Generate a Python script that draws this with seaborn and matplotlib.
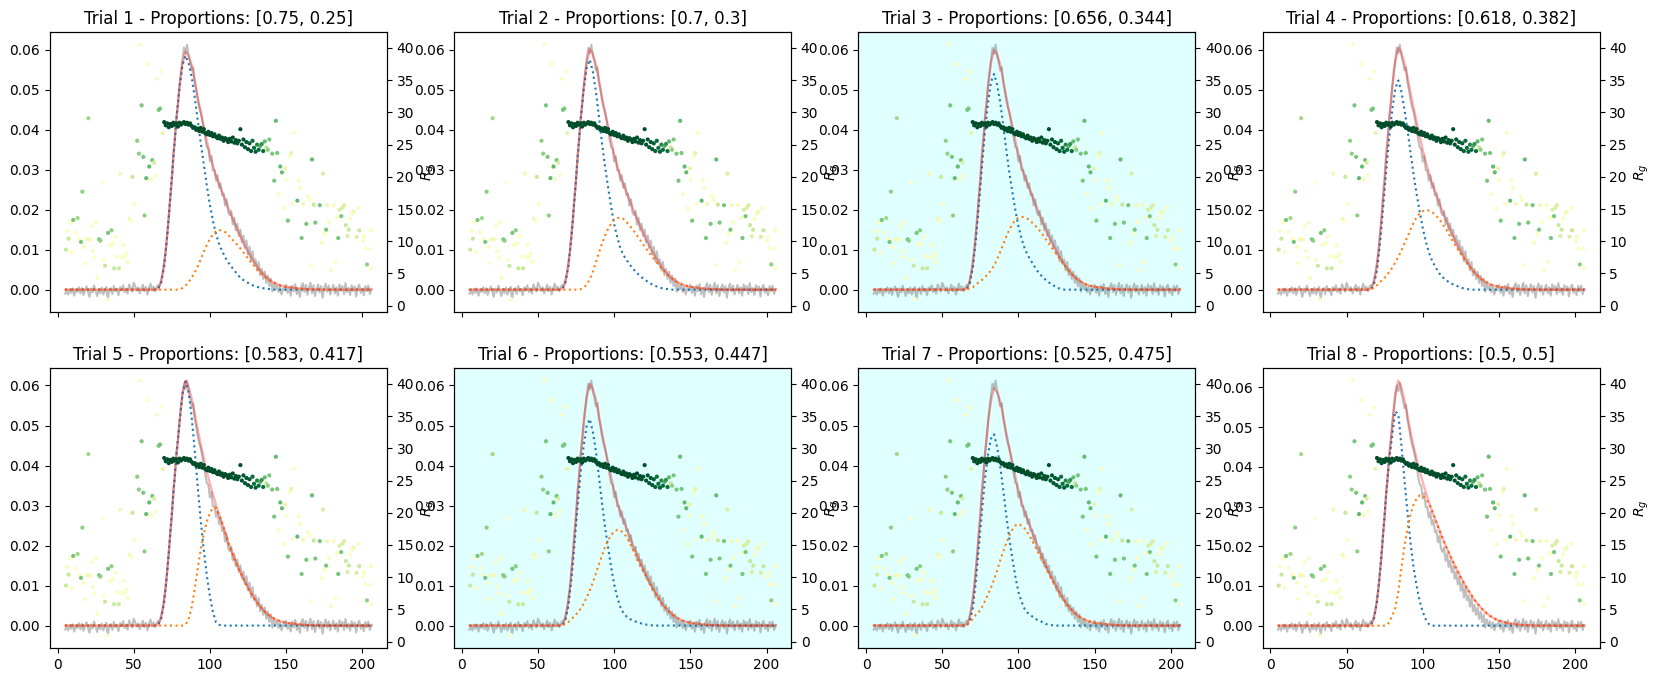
import numpy as np
import pandas as pd
import matplotlib
matplotlib.use('Agg')
import matplotlib.pyplot as plt
import seaborn as sns

# Measured elution trace (one value per frame)
frames = list(range(5, 207))
measured = [
    -0.0010, -0.0004, -0.0012, 0.0002, -0.0008, 0.0003, -0.0015, 0.0001, -0.0006, 0.0006,
    -0.0009, 0.0004, -0.0013, -0.0002, 0.0008, -0.0005, -0.0018, 0.0003, -0.0007, 0.0010,
    -0.0003, -0.0016, 0.0002, -0.0009, 0.0005, -0.0012, -0.0003, 0.0007, -0.0024, -0.0001,
    0.0004, -0.0011, 0.0009, -0.0004, 0.0002, -0.0014, 0.0006, -0.0002, 0.0011, -0.0006,
    0.0003, -0.0010, 0.0013, 0.0004, -0.0005, 0.0017, 0.0008, -0.0003, 0.0006, -0.0009,
    0.0002, 0.0012, -0.0004, 0.0007, -0.0012, 0.0004, 0.0015, -0.0002, 0.0008, -0.0004,
    0.0006, 0.0012, 0.0010, 0.0025, 0.0042, 0.0070, 0.0095, 0.0140, 0.0178, 0.0232,
    0.0270, 0.0335, 0.0372, 0.0428, 0.0462, 0.0508, 0.0545, 0.0575, 0.0605, 0.0590,
    0.0612, 0.0585, 0.0570, 0.0548, 0.0556, 0.0518, 0.0498, 0.0474, 0.0456, 0.0444,
    0.0424, 0.0400, 0.0376, 0.0356, 0.0352, 0.0320, 0.0334, 0.0298, 0.0299, 0.0272,
    0.0286, 0.0254, 0.0266, 0.0236, 0.0240, 0.0210, 0.0226, 0.0194, 0.0186, 0.0197,
    0.0163, 0.0180, 0.0148, 0.0165, 0.0134, 0.0150, 0.0118, 0.0135, 0.0104, 0.0123,
    0.0088, 0.0107, 0.0071, 0.0096, 0.0064, 0.0076, 0.0048, 0.0069, 0.0036, 0.0052,
    0.0027, 0.0045, 0.0017, 0.0035, 0.0009, 0.0028, -0.0005, 0.0016, 0.0001, 0.0011,
    -0.0006, 0.0008, -0.0012, 0.0004, -0.0002, 0.0012, -0.0008, 0.0006, -0.0015, 0.0010,
    -0.0004, 0.0014, -0.0011, 0.0003, -0.0018, 0.0008, 0.0016, -0.0006, 0.0012, -0.0013,
    0.0005, 0.0017, -0.0009, 0.0011, -0.0016, 0.0002, 0.0013, -0.0007, 0.0009, -0.0020,
    0.0004, 0.0015, -0.0005, 0.0010, -0.0012, 0.0001, 0.0012, -0.0009, 0.0006, -0.0015,
    0.0013, -0.0002, 0.0009, -0.0011, 0.0016, -0.0006, 0.0004, -0.0013, 0.0011, -0.0003,
    0.0008, -0.0017, 0.0005, 0.0012, -0.0008, 0.0003, -0.0014, 0.0009, -0.0004, 0.0010,
    -0.0011, 0.0002,
]

# Frames where the fitted curves are given
fit_x = [5, 58, 60, 62, 64, 66, 68, 70, 72, 74, 76, 78, 80,
         82, 84, 86, 88, 90, 92, 94, 96, 98, 100,
         102, 104, 106, 108, 110, 112, 114, 116, 118, 120,
         122, 124, 126, 128, 130, 132, 134, 136, 138, 140,
         142, 144, 146, 148, 150, 156, 164, 175, 206]

# Trial 1
t1_total = [0, 0, 0, 0, 0, 0.0002, 0.0018, 0.0060, 0.0135, 0.0230, 0.0330, 0.0425, 0.0505,
            0.0565, 0.0595, 0.0585, 0.0562, 0.0525, 0.0482, 0.0443, 0.0408, 0.0372, 0.0338,
            0.0310, 0.0285, 0.0264, 0.0245, 0.0225, 0.0205, 0.0186, 0.0168, 0.0150, 0.0133,
            0.0117, 0.0102, 0.0088, 0.0075, 0.0063, 0.0052, 0.0043, 0.0035, 0.0028, 0.0022,
            0.0018, 0.0014, 0.0011, 0.0009, 0.0007, 0.0004, 0.0001, 0, 0]
t1_first = [0, 0, 0, 0, 0, 0.0002, 0.0018, 0.0060, 0.0135, 0.0230, 0.0330, 0.0425, 0.0504,
            0.0561, 0.0585, 0.0566, 0.0532, 0.0482, 0.0424, 0.0367, 0.0313, 0.0260, 0.0211,
            0.0172, 0.0139, 0.0115, 0.0097, 0.0081, 0.0068, 0.0058, 0.0048, 0.0038, 0.0030,
            0.0024, 0.0019, 0.0015, 0.0011, 0.0008, 0.0006, 0.0004, 0.0003, 0.0002, 0.0001,
            0, 0, 0, 0, 0, 0, 0, 0, 0]
t1_second = [0, 0, 0, 0, 0, 0, 0, 0, 0, 0, 0, 0, 0.0001,
             0.0004, 0.0010, 0.0019, 0.0030, 0.0043, 0.0058, 0.0076, 0.0095, 0.0112, 0.0127,
             0.0138, 0.0146, 0.0149, 0.0148, 0.0144, 0.0137, 0.0128, 0.0120, 0.0112, 0.0103,
             0.0093, 0.0083, 0.0073, 0.0064, 0.0055, 0.0046, 0.0039, 0.0032, 0.0026, 0.0021,
             0.0018, 0.0014, 0.0011, 0.0009, 0.0007, 0.0004, 0.0001, 0, 0]

# Trial 2
t2_total = [0, 0, 0, 0, 0, 0.0002, 0.0018, 0.0060, 0.0135, 0.0230, 0.0330, 0.0425, 0.0505,
            0.0568, 0.0601, 0.0590, 0.0564, 0.0525, 0.0482, 0.0443, 0.0408, 0.0372, 0.0338,
            0.0310, 0.0285, 0.0264, 0.0245, 0.0225, 0.0205, 0.0186, 0.0168, 0.0150, 0.0133,
            0.0117, 0.0102, 0.0088, 0.0075, 0.0063, 0.0052, 0.0043, 0.0035, 0.0028, 0.0022,
            0.0018, 0.0014, 0.0011, 0.0009, 0.0007, 0.0004, 0.0001, 0, 0]
t2_first = [0, 0, 0, 0, 0, 0.0002, 0.0018, 0.0060, 0.0135, 0.0230, 0.0330, 0.0424, 0.0500,
            0.0555, 0.0575, 0.0545, 0.0496, 0.0433, 0.0367, 0.0308, 0.0256, 0.0207, 0.0164,
            0.0131, 0.0105, 0.0087, 0.0075, 0.0064, 0.0054, 0.0045, 0.0038, 0.0031, 0.0025,
            0.0020, 0.0015, 0.0011, 0.0008, 0.0005, 0.0003, 0.0002, 0.0001, 0, 0,
            0, 0, 0, 0, 0, 0, 0, 0, 0]
t2_second = [0, 0, 0, 0, 0, 0, 0, 0, 0, 0, 0, 0.0001, 0.0005,
             0.0013, 0.0026, 0.0045, 0.0068, 0.0092, 0.0115, 0.0135, 0.0152, 0.0165, 0.0174,
             0.0179, 0.0180, 0.0177, 0.0170, 0.0161, 0.0151, 0.0141, 0.0130, 0.0119, 0.0108,
             0.0097, 0.0087, 0.0077, 0.0067, 0.0058, 0.0049, 0.0041, 0.0034, 0.0028, 0.0022,
             0.0018, 0.0014, 0.0011, 0.0009, 0.0007, 0.0004, 0.0001, 0, 0]

# Trial 3
t3_total = [0, 0, 0, 0, 0, 0.0002, 0.0018, 0.0060, 0.0135, 0.0230, 0.0330, 0.0425, 0.0505,
            0.0567, 0.0599, 0.0588, 0.0563, 0.0525, 0.0482, 0.0443, 0.0408, 0.0372, 0.0338,
            0.0310, 0.0285, 0.0264, 0.0245, 0.0225, 0.0205, 0.0186, 0.0168, 0.0150, 0.0133,
            0.0117, 0.0102, 0.0088, 0.0075, 0.0063, 0.0052, 0.0043, 0.0035, 0.0028, 0.0022,
            0.0018, 0.0014, 0.0011, 0.0009, 0.0007, 0.0004, 0.0001, 0, 0]
t3_first = [0, 0, 0, 0, 0, 0.0001, 0.0015, 0.0054, 0.0123, 0.0211, 0.0306, 0.0394, 0.0466,
            0.0519, 0.0539, 0.0512, 0.0469, 0.0412, 0.0350, 0.0293, 0.0244, 0.0198, 0.0158,
            0.0128, 0.0104, 0.0087, 0.0074, 0.0061, 0.0049, 0.0039, 0.0031, 0.0024, 0.0018,
            0.0013, 0.0008, 0.0004, 0.0002, 0, 0, 0, 0, 0, 0,
            0, 0, 0, 0, 0, 0, 0, 0, 0]
t3_second = [0, 0, 0, 0, 0, 0.0001, 0.0003, 0.0006, 0.0012, 0.0019, 0.0024, 0.0031, 0.0039,
             0.0048, 0.0060, 0.0076, 0.0094, 0.0113, 0.0132, 0.0150, 0.0164, 0.0174, 0.0180,
             0.0182, 0.0181, 0.0177, 0.0171, 0.0164, 0.0156, 0.0147, 0.0137, 0.0126, 0.0115,
             0.0104, 0.0094, 0.0084, 0.0073, 0.0063, 0.0052, 0.0043, 0.0035, 0.0028, 0.0022,
             0.0018, 0.0014, 0.0011, 0.0009, 0.0007, 0.0004, 0.0001, 0, 0]

# Trial 4
t4_total = [0, 0, 0, 0, 0, 0.0002, 0.0018, 0.0060, 0.0135, 0.0230, 0.0330, 0.0425, 0.0505,
            0.0570, 0.0605, 0.0593, 0.0566, 0.0532, 0.0492, 0.0455, 0.0420, 0.0385, 0.0350,
            0.0320, 0.0292, 0.0268, 0.0247, 0.0226, 0.0205, 0.0186, 0.0168, 0.0150, 0.0133,
            0.0117, 0.0102, 0.0088, 0.0075, 0.0063, 0.0052, 0.0043, 0.0035, 0.0028, 0.0022,
            0.0018, 0.0014, 0.0011, 0.0009, 0.0007, 0.0004, 0.0001, 0, 0]
t4_first = [0, 0, 0, 0, 0, 0.0001, 0.0013, 0.0049, 0.0116, 0.0204, 0.0296, 0.0381, 0.0450,
            0.0502, 0.0523, 0.0495, 0.0451, 0.0400, 0.0342, 0.0288, 0.0239, 0.0195, 0.0154,
            0.0121, 0.0094, 0.0074, 0.0059, 0.0046, 0.0035, 0.0028, 0.0022, 0.0017, 0.0013,
            0.0010, 0.0007, 0.0004, 0.0002, 0.0001, 0, 0, 0, 0, 0,
            0, 0, 0, 0, 0, 0, 0, 0, 0]
t4_second = [0, 0, 0, 0, 0, 0.0001, 0.0005, 0.0011, 0.0019, 0.0026, 0.0034, 0.0044, 0.0055,
             0.0068, 0.0082, 0.0098, 0.0115, 0.0132, 0.0150, 0.0167, 0.0181, 0.0190, 0.0196,
             0.0199, 0.0198, 0.0194, 0.0188, 0.0180, 0.0170, 0.0158, 0.0146, 0.0133, 0.0120,
             0.0107, 0.0095, 0.0084, 0.0073, 0.0062, 0.0052, 0.0043, 0.0035, 0.0028, 0.0022,
             0.0018, 0.0014, 0.0011, 0.0009, 0.0007, 0.0004, 0.0001, 0, 0]

# Trial 5
t5_total = [0, 0, 0, 0, 0, 0.0002, 0.0018, 0.0060, 0.0135, 0.0230, 0.0330, 0.0425, 0.0505,
            0.0580, 0.0612, 0.0598, 0.0568, 0.0530, 0.0490, 0.0452, 0.0418, 0.0385, 0.0355,
            0.0328, 0.0302, 0.0278, 0.0256, 0.0234, 0.0208, 0.0188, 0.0168, 0.0150, 0.0133,
            0.0117, 0.0102, 0.0088, 0.0075, 0.0063, 0.0052, 0.0043, 0.0035, 0.0028, 0.0022,
            0.0018, 0.0014, 0.0011, 0.0009, 0.0007, 0.0004, 0.0001, 0, 0]
t5_first = [0, 0, 0, 0, 0, 0.0002, 0.0018, 0.0060, 0.0135, 0.0230, 0.0330, 0.0425, 0.0505,
            0.0580, 0.0610, 0.0583, 0.0523, 0.0440, 0.0348, 0.0262, 0.0188, 0.0125, 0.0073,
            0.0034, 0.0008, 0.0002, 0, 0, 0, 0, 0, 0, 0,
            0, 0, 0, 0, 0, 0, 0, 0, 0, 0,
            0, 0, 0, 0, 0, 0, 0, 0, 0]
t5_second = [0, 0, 0, 0, 0, 0, 0, 0, 0, 0, 0, 0, 0,
             0, 0.0002, 0.0015, 0.0045, 0.0090, 0.0142, 0.0190, 0.0230, 0.0260, 0.0282,
             0.0294, 0.0294, 0.0276, 0.0256, 0.0234, 0.0208, 0.0188, 0.0168, 0.0150, 0.0133,
             0.0117, 0.0102, 0.0088, 0.0075, 0.0063, 0.0052, 0.0043, 0.0035, 0.0028, 0.0022,
             0.0018, 0.0014, 0.0011, 0.0009, 0.0007, 0.0004, 0.0001, 0, 0]

# Trial 6
t6_total = [0, 0, 0, 0, 0, 0.0002, 0.0018, 0.0060, 0.0135, 0.0230, 0.0330, 0.0425, 0.0505,
            0.0570, 0.0604, 0.0592, 0.0566, 0.0525, 0.0482, 0.0443, 0.0408, 0.0372, 0.0338,
            0.0310, 0.0285, 0.0264, 0.0245, 0.0225, 0.0205, 0.0186, 0.0168, 0.0150, 0.0133,
            0.0117, 0.0102, 0.0088, 0.0075, 0.0063, 0.0052, 0.0043, 0.0035, 0.0028, 0.0022,
            0.0018, 0.0014, 0.0011, 0.0009, 0.0007, 0.0004, 0.0001, 0, 0]
t6_first = [0, 0, 0, 0, 0, 0.0001, 0.0014, 0.0051, 0.0119, 0.0206, 0.0298, 0.0383, 0.0450,
            0.0500, 0.0516, 0.0484, 0.0436, 0.0372, 0.0307, 0.0247, 0.0195, 0.0146, 0.0103,
            0.0071, 0.0047, 0.0032, 0.0023, 0.0017, 0.0013, 0.0010, 0.0008, 0.0005, 0.0003,
            0.0002, 0.0001, 0, 0, 0, 0, 0, 0, 0, 0,
            0, 0, 0, 0, 0, 0, 0, 0, 0]
t6_second = [0, 0, 0, 0, 0, 0.0001, 0.0004, 0.0009, 0.0016, 0.0024, 0.0032, 0.0042, 0.0055,
             0.0070, 0.0088, 0.0108, 0.0130, 0.0153, 0.0175, 0.0196, 0.0213, 0.0226, 0.0235,
             0.0239, 0.0238, 0.0232, 0.0222, 0.0208, 0.0192, 0.0176, 0.0160, 0.0145, 0.0130,
             0.0115, 0.0101, 0.0088, 0.0075, 0.0063, 0.0052, 0.0043, 0.0035, 0.0028, 0.0022,
             0.0018, 0.0014, 0.0011, 0.0009, 0.0007, 0.0004, 0.0001, 0, 0]

# Trial 7
t7_total = [0, 0, 0, 0, 0, 0.0002, 0.0018, 0.0060, 0.0135, 0.0230, 0.0330, 0.0425, 0.0505,
            0.0562, 0.0593, 0.0584, 0.0561, 0.0525, 0.0482, 0.0443, 0.0408, 0.0372, 0.0338,
            0.0310, 0.0285, 0.0264, 0.0245, 0.0225, 0.0205, 0.0186, 0.0168, 0.0150, 0.0133,
            0.0117, 0.0102, 0.0088, 0.0075, 0.0063, 0.0052, 0.0043, 0.0035, 0.0028, 0.0022,
            0.0018, 0.0014, 0.0011, 0.0009, 0.0007, 0.0004, 0.0001, 0, 0]
t7_first = [0, 0, 0, 0, 0, 0, 0.0010, 0.0043, 0.0108, 0.0196, 0.0284, 0.0364, 0.0427,
            0.0467, 0.0478, 0.0446, 0.0399, 0.0340, 0.0276, 0.0218, 0.0168, 0.0122, 0.0084,
            0.0060, 0.0042, 0.0032, 0.0026, 0.0020, 0.0015, 0.0012, 0.0008, 0.0004, 0.0002,
            0.0001, 0, 0, 0, 0, 0, 0, 0, 0, 0,
            0, 0, 0, 0, 0, 0, 0, 0, 0]
t7_second = [0, 0, 0, 0, 0, 0.0002, 0.0008, 0.0017, 0.0027, 0.0034, 0.0046, 0.0061, 0.0078,
             0.0095, 0.0115, 0.0138, 0.0162, 0.0185, 0.0206, 0.0225, 0.0240, 0.0250, 0.0254,
             0.0250, 0.0243, 0.0232, 0.0219, 0.0205, 0.0190, 0.0174, 0.0160, 0.0146, 0.0131,
             0.0116, 0.0102, 0.0088, 0.0075, 0.0063, 0.0052, 0.0043, 0.0035, 0.0028, 0.0022,
             0.0018, 0.0014, 0.0011, 0.0009, 0.0007, 0.0004, 0.0001, 0, 0]

# Trial 8
t8_total = [0, 0, 0, 0, 0, 0.0002, 0.0018, 0.0060, 0.0135, 0.0230, 0.0330, 0.0425, 0.0505,
            0.0585, 0.0617, 0.0600, 0.0568, 0.0530, 0.0488, 0.0452, 0.0420, 0.0390, 0.0362,
            0.0336, 0.0312, 0.0290, 0.0270, 0.0250, 0.0230, 0.0211, 0.0193, 0.0176, 0.0160,
            0.0144, 0.0129, 0.0115, 0.0101, 0.0088, 0.0076, 0.0065, 0.0055, 0.0046, 0.0038,
            0.0031, 0.0025, 0.0020, 0.0016, 0.0013, 0.0006, 0.0002, 0, 0]
t8_first = [0, 0, 0, 0, 0, 0.0002, 0.0018, 0.0060, 0.0135, 0.0230, 0.0330, 0.0417, 0.0480,
            0.0540, 0.0532, 0.0455, 0.0368, 0.0285, 0.0208, 0.0147, 0.0100, 0.0062, 0.0035,
            0.0016, 0.0004, 0, 0, 0, 0, 0, 0, 0, 0,
            0, 0, 0, 0, 0, 0, 0, 0, 0, 0,
            0, 0, 0, 0, 0, 0, 0, 0, 0]
t8_second = [0, 0, 0, 0, 0, 0, 0, 0, 0, 0, 0, 0.0008, 0.0025,
             0.0045, 0.0085, 0.0145, 0.0200, 0.0245, 0.0280, 0.0305, 0.0320, 0.0328, 0.0327,
             0.0320, 0.0308, 0.0290, 0.0270, 0.0250, 0.0230, 0.0211, 0.0193, 0.0176, 0.0160,
             0.0144, 0.0129, 0.0115, 0.0101, 0.0088, 0.0076, 0.0065, 0.0055, 0.0046, 0.0038,
             0.0031, 0.0025, 0.0020, 0.0016, 0.0013, 0.0006, 0.0002, 0, 0]

proportions = [[0.75, 0.25], [0.7, 0.3], [0.656, 0.344], [0.618, 0.382],
               [0.583, 0.417], [0.553, 0.447], [0.525, 0.475], [0.5, 0.5]]
highlighted = [3, 6, 7]

# Rg per frame: (frame, Rg, colour weight)
rg_left = [
    (5.5, 8.7, 0.3), (6.2, 11.6, 0.1), (7.3, 10.4, 0.3), (8.4, 12.9, 0.1), (9.4, 8.3, 0.08),
    (10.3, 13.3, 0.5), (12.1, 11.4, 0.08), (13.2, 13.6, 0.4), (14.5, 10.4, 0.1), (15.4, 9.9, 0.5),
    (16.3, 17.7, 0.45), (17.4, 9.1, 0.1), (18.2, 6.6, 0.08), (19.3, 10.3, 0.15), (20.2, 29.1, 0.4),
    (21.5, 10.3, 0.15), (22.4, 12.3, 0.08), (23.3, 8.5, 0.08), (24.4, 7.5, 0.08), (25.3, 12.9, 0.1),
    (26.2, 4.3, 0.12), (27.3, 10.3, 0.5), (28.1, 10.1, 0.45), (29.4, 19.1, 0.05), (30.1, 7.1, 0.08),
    (31.2, 6.2, 0.3), (32.3, 1.0, 0.08), (33.2, 11.3, 0.5), (34.3, 9.4, 0.1), (35.4, 11.7, 0.45),
    (36.3, 9.7, 0.1), (37.1, 5.8, 0.3), (38.0, 10.7, 0.1), (39.1, 7.7, 0.08), (40.2, 5.8, 0.3),
    (41.3, 20.5, 0.15), (42.4, 7.5, 0.08), (43.3, 9.4, 0.1), (44.0, 7.6, 0.1), (45.3, 8.1, 0.1),
    (46.2, 6.8, 0.1), (47.3, 13.5, 0.15), (48.4, 13.1, 0.08), (49.2, 20.0, 0.3), (50.6, 15.8, 0.08),
    (52.3, 25.6, 0.45), (53.4, 23.6, 0.45), (54.3, 40.5, 0.08), (55.2, 31.1, 0.5), (56.3, 23.1, 0.5),
    (57.1, 14.0, 0.45), (58.2, 19.8, 0.55), (59.1, 37.5, 0.08), (60.2, 21.6, 0.55), (61.3, 19.6, 0.12),
    (62.2, 22.6, 0.5), (63.3, 22.2, 0.25), (64.4, 20.2, 0.08), (65.3, 35.2, 0.1), (66.4, 30.4, 0.5),
    (67.3, 30.6, 0.5), (68.1, 36.4, 0.08), (69.0, 26.8, 0.2),
]
rg_core = [
    (70, 28.5, 0.97), (71, 28.0, 0.97), (72, 28.3, 0.97), (73, 27.7, 0.97), (74, 28.2, 0.97),
    (75, 27.9, 0.97), (76, 28.4, 0.97), (77, 28.1, 0.97), (78, 28.3, 0.97), (79, 27.8, 0.97),
    (80, 28.4, 0.97), (81, 28.1, 0.97), (82, 28.3, 0.97), (83, 28.5, 0.97), (84, 28.2, 0.97),
    (85, 28.4, 0.97), (86, 28.1, 0.97), (87, 28.3, 0.97), (88, 27.9, 0.97), (89, 27.6, 0.97),
    (90, 27.7, 0.97), (91, 27.3, 0.97), (92, 27.5, 0.97), (93, 27.1, 0.97), (94, 27.6, 0.97),
    (95, 27.0, 0.97), (96, 27.4, 0.97), (97, 26.8, 0.97), (98, 26.6, 0.97), (99, 27.0, 0.97),
    (100, 26.5, 0.97), (101, 26.8, 0.97), (102, 26.3, 0.97), (103, 26.6, 0.97), (104, 26.2, 0.97),
    (105, 26.0, 0.97), (106, 26.4, 0.97), (107, 25.9, 0.97), (108, 26.1, 0.97), (109, 25.6, 0.97),
    (110, 26.0, 0.97), (111, 25.8, 0.97), (112, 25.4, 0.97), (113, 25.9, 0.97), (114, 25.5, 0.97),
    (115, 26.1, 0.97), (116, 25.3, 0.95), (117, 25.7, 0.95), (118, 25.2, 0.95), (119, 25.6, 0.95),
    (120, 27.4, 0.95), (121, 25.0, 0.95), (122, 25.8, 0.93), (123, 24.6, 0.93), (124, 25.4, 0.93),
    (125, 24.3, 0.93), (126, 25.2, 0.9), (127, 24.0, 0.9), (128, 25.6, 0.85), (129, 24.5, 0.85),
    (130, 23.9, 0.9), (131, 25.0, 0.75), (132, 24.2, 0.85), (133, 24.8, 0.6), (134, 25.1, 0.7),
    (135, 24.0, 0.85), (136, 25.5, 0.55), (137, 24.6, 0.3), (138, 24.2, 0.45), (139, 25.8, 0.5),
]
rg_right = [
    (140.9, 23.6, 0.5), (142.2, 19.4, 0.5), (143.3, 28.7, 0.55), (144.2, 23.7, 0.5), (145.1, 17.3, 0.08),
    (146.2, 21.6, 0.55), (147.3, 20.7, 0.55), (148.4, 15.1, 0.1), (149.5, 21.3, 0.2), (150.1, 19.6, 0.08),
    (151.2, 13.2, 0.5), (152.3, 23.2, 0.1), (153.2, 23.7, 0.2), (154.3, 15.8, 0.08), (155.0, 26.8, 0.08),
    (157.4, 16.3, 0.55), (158.2, 19.4, 0.1), (159.3, 18.2, 0.1), (160.2, 10.5, 0.5), (161.3, 15.8, 0.15),
    (163.3, 12.7, 0.5), (164.2, 17.0, 0.08), (165.3, 16.4, 0.1), (166.4, 6.3, 0.08), (167.0, 22.7, 0.55),
    (168.1, 15.7, 0.3), (169.2, 12.9, 0.5), (172.1, 15.6, 0.5), (173.4, 9.8, 0.1), (174.3, 20.5, 0.25),
    (175.4, 11.2, 0.1), (176.3, 11.8, 0.5), (177.1, 15.6, 0.15), (178.2, 13.0, 0.1), (179.3, 5.5, 0.08),
    (181.3, 15.6, 0.12), (182.2, 6.8, 0.08), (183.3, 13.7, 0.1), (184.2, 10.5, 0.5), (185.1, 14.9, 0.25),
    (186.2, 13.9, 0.5), (187.0, 15.2, 0.25), (188.1, 15.6, 0.25), (189.2, 12.5, 0.3), (190.3, 10.8, 0.25),
    (191.2, 11.8, 0.3), (192.1, 13.5, 0.1), (193.4, 14.3, 0.1), (194.5, 14.6, 0.15), (196.3, 10.7, 0.25),
    (197.4, 15.2, 0.1), (198.0, 11.7, 0.3), (200.4, 10.1, 0.1), (201.1, 10.7, 0.1), (202.2, 8.9, 0.08),
    (203.1, 6.4, 0.45), (205.3, 8.8, 0.08), (205.6, 11.7, 0.1), (205.9, 5.8, 0.08),
]

rg = pd.DataFrame(rg_left + rg_core + rg_right, columns=['frame', 'rg', 'weight'])

fits = [
    (t1_total, t1_first, t1_second), (t2_total, t2_first, t2_second),
    (t3_total, t3_first, t3_second), (t4_total, t4_first, t4_second),
    (t5_total, t5_first, t5_second), (t6_total, t6_first, t6_second),
    (t7_total, t7_first, t7_second), (t8_total, t8_first, t8_second),
]

fig, axes = plt.subplots(2, 4, figsize=(16.61, 6.82), dpi=100, sharex=True)
fig.subplots_adjust(left=0.030, right=0.963, bottom=0.050, top=0.953, wspace=0.2, hspace=0.2)

for i, ax in enumerate(axes.flat):
    trial = i + 1
    total, first, second = fits[i]
    if trial in highlighted:
        ax.set_facecolor('lightcyan')

    # Measured trace, decomposed components and their sum
    sns.lineplot(x=frames, y=measured, ax=ax, color='gray', alpha=0.5)
    sns.lineplot(x=fit_x, y=first, ax=ax, color='C0', linestyle=':')
    sns.lineplot(x=fit_x, y=second, ax=ax, color='C1', linestyle=':')
    sns.lineplot(x=fit_x, y=total, ax=ax, color='red', alpha=0.3, linewidth=1.7)
    ax.set_title(f'Trial {trial} - Proportions: {proportions[i]}')
    ax.set_xlabel('')
    ax.set_ylabel('')

    # Rg on a second axis
    ax2 = ax.twinx()
    sns.scatterplot(data=rg, x='frame', y='rg', hue='weight', palette='YlGn',
                    hue_norm=(0, 1), s=9, linewidth=0, legend=False, ax=ax2)
    ax2.set_xlabel('')
    ax2.set_ylabel('$R_g$')

plt.savefig('out.png', dpi=100)
